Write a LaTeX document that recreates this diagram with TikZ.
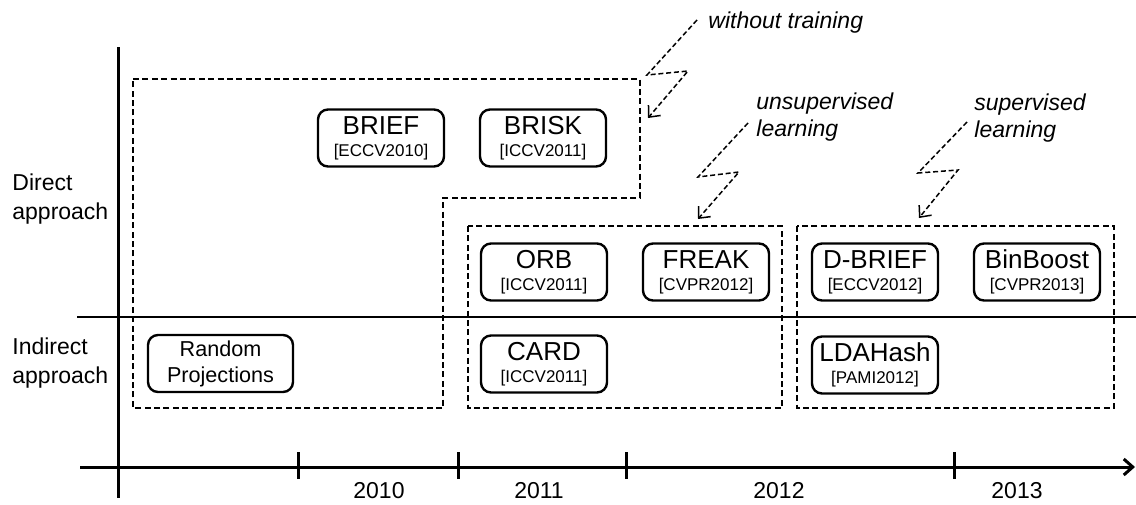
\documentclass[tikz,border=0pt]{standalone}
\usepackage{fontspec}
\setsansfont{Liberation Sans}
\usetikzlibrary{arrows.meta}
\newcommand{\pub}[1]{{\fontsize{8.5}{9.5}\selectfont[#1]}}

\begin{document}
\begin{tikzpicture}[
  x=0.5pt, y=-0.5pt,
  font=\sffamily,
  box/.style={draw, line width=1.2pt, rounded corners=5pt, align=center, minimum width=63pt, minimum height=28.5pt, inner sep=1pt, font=\sffamily\fontsize{13}{11}\selectfont},
  region/.style={draw, line width=0.85pt, dash pattern=on 3pt off 1.7pt},
  axis/.style={line width=1.5pt},
  hint/.style={line width=0.75pt, dash pattern=on 2.5pt off 1.4pt, -{Straight Barb[length=4.5pt,width=8pt]}},
  side/.style={anchor=west, align=left, inner sep=0pt, font=\sffamily\fontsize{11.5}{14.7}\selectfont},
  note/.style={anchor=west, align=left, inner sep=0pt, font=\sffamily\itshape\fontsize{11.5}{13.5}\selectfont},
  year/.style={inner sep=0pt, font=\sffamily\fontsize{11.5}{13}\selectfont}
]
\useasboundingbox (0,0) rectangle (1136,504);

% axes
\draw[axis] (118,47) -- (118,498);
\draw[line width=1.3pt] (77,317) -- (1136,317);
\draw[axis, -{Straight Barb[length=4.5pt,width=8pt]}] (80,467) -- (1135,467);
\foreach \x in {298,458,626,954} {
  \draw[axis] (\x,452) -- (\x,479);
}

\node[side] (direct) at (12,199) {Direct\\approach};
\node[side] (indirect) at (12,363) {Indirect\\approach};

\node[year] (y2010) at (379,491) {2010};
\node[year] (y2011) at (539,491) {2011};
\node[year] (y2012) at (779,491) {2012};
\node[year] (y2013) at (1017,491) {2013};

% descriptors
\node[box] (brief) at (381,138) {BRIEF\\\pub{ECCV2010}};
\node[box] (brisk) at (543,138) {BRISK\\\pub{ICCV2011}};
\node[box] (orb) at (544,272) {ORB\\\pub{ICCV2011}};
\node[box] (freak) at (706,272) {FREAK\\\pub{CVPR2012}};
\node[box] (card) at (544,364) {CARD\\\pub{ICCV2011}};
\node[box] (dbrief) at (875,272) {D-BRIEF\\\pub{ECCV2012}};
\node[box] (binboost) at (1037,272) {BinBoost\\\pub{CVPR2013}};
\node[box] (ldahash) at (875,365) {LDAHash\\\pub{PAMI2012}};
\node[box, minimum width=72.5pt, font=\sffamily\fontsize{10.8}{13}\selectfont] (randproj) at (220.5,363.5) {Random\\Projections};

% groups
\draw[region] (133,79) -- (640,79) -- (640,198) -- (443,198) -- (443,408) -- (133,408) -- cycle;
\draw[region] (468,226) rectangle (782,408);
\draw[region] (797,226) rectangle (1114,408);

\node[note] (notrain) at (708,23) {without training};
\node[note] (unsup) at (756,117) {unsupervised\\learning};
\node[note] (sup) at (974,118) {supervised\\learning};

\draw[hint] ([shift={(-11,-3)}]notrain.west) -- ++(-50,55) -- ++(41,-4) -- ++(-40,47);
\draw[hint] ([shift={(-8,6)}]unsup.west) -- ++(-50,54) -- ++(41,-5) -- ++(-41,47);
\draw[hint] ([shift={(-7,4)}]sup.west) -- ++(-49,51) -- ++(40,-3) -- ++(-39,48);

\end{tikzpicture}
\end{document}
